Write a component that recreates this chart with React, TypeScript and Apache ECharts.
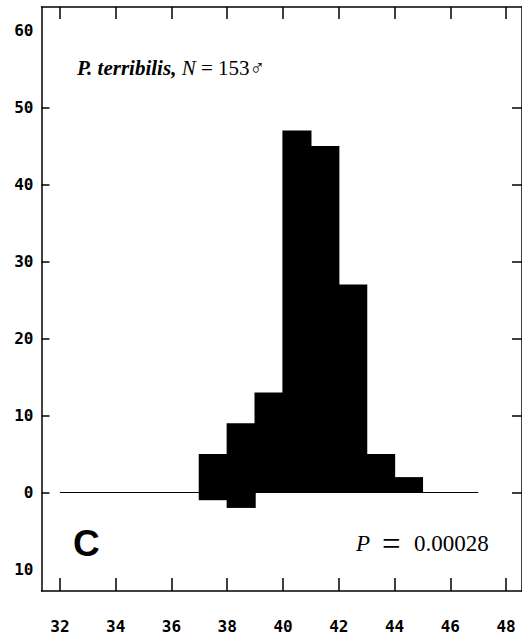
import React, { useEffect, useRef } from "react";
import * as echarts from "echarts";

// Bin starts (each bin is 1 unit wide)
const binStarts = [37, 38, 39, 40, 41, 42, 43, 44];
const upperCounts = [5, 9, 13, 47, 45, 27, 5, 2];
const lowerCounts = [-1, -2, 0, 0, 0, 0, 0, 0];
const baselineRange = [32, 47];
const xTicks = [32, 34, 36, 38, 40, 42, 44, 46, 48];
const yLabels = [-10, 0, 10, 20, 30, 40, 50, 60];
const yTicks = [0, 10, 20, 30, 40, 50];

export default function App() {
  const ref = useRef<HTMLDivElement>(null);
  useEffect(() => {
    document.body.style.margin = "0";
    const chart = echarts.init(ref.current!, null, { renderer: "svg" });
    const rects: number[][] = [];
    binStarts.forEach((s, i) => {
      if (upperCounts[i] !== 0) rects.push([s, s + 1, upperCounts[i]]);
      if (lowerCounts[i] !== 0) rects.push([s, s + 1, lowerCounts[i]]);
    });
    const monoLabel = {
      fontFamily: "DejaVu Sans Mono",
      fontWeight: "bold" as const,
      fontSize: 16,
      color: "#000",
    };
    const axisLine = { show: true, onZero: false, lineStyle: { color: "#000", width: 1.5 } };
    const tickStyle = { color: "#000", width: 1.5 };
    const serif = "Liberation Serif";
    chart.setOption({
      animation: false,
      backgroundColor: "#fff",
      grid: { left: 41.5, right: -2, top: 7, bottom: 49 },
      xAxis: [
        {
          type: "value",
          min: 31.34,
          max: 48.57,
          position: "bottom",
          axisLine,
          splitLine: { show: false },
          axisTick: { show: true, inside: true, length: 13, customValues: xTicks, lineStyle: tickStyle },
          axisLabel: {
            ...monoLabel,
            margin: 27,
            customValues: xTicks,
            formatter: (v: number) => String(v),
          },
        },
        {
          type: "value",
          min: 31.34,
          max: 48.57,
          position: "top",
          axisLine,
          splitLine: { show: false },
          axisTick: { show: true, inside: true, length: 12, customValues: xTicks, lineStyle: tickStyle },
          axisLabel: { show: false },
        },
      ],
      yAxis: [
        {
          type: "value",
          min: -12.79,
          max: 63.05,
          position: "left",
          axisLine,
          splitLine: { show: false },
          axisTick: { show: true, inside: true, length: 8, customValues: yTicks, lineStyle: tickStyle },
          axisLabel: {
            ...monoLabel,
            margin: 8,
            customValues: yLabels,
            formatter: (v: number) => String(Math.abs(v)),
          },
        },
        {
          type: "value",
          min: -12.79,
          max: 63.05,
          position: "right",
          axisLine,
          splitLine: { show: false },
          axisTick: { show: true, inside: true, length: 10, customValues: yTicks, lineStyle: tickStyle },
          axisLabel: { show: false },
        },
      ],
      series: [
        {
          type: "line",
          data: [
            [baselineRange[0], 0],
            [baselineRange[1], 0],
          ],
          symbol: "none",
          lineStyle: { color: "#000", width: 1.2 },
          z: 1,
        },
        {
          type: "custom",
          data: rects,
          z: 2,
          renderItem: (params: any, api: any) => {
            const x0 = api.value(0);
            const x1 = api.value(1);
            const y = api.value(2);
            const p0 = api.coord([x0, y]);
            const p1 = api.coord([x1, 0]);
            return {
              type: "rect",
              shape: {
                x: p0[0] - 0.6,
                y: Math.min(p0[1], p1[1]),
                width: p1[0] - p0[0] + 1.2,
                height: Math.abs(p1[1] - p0[1]),
              },
              style: { fill: "#000" },
            };
          },
        },
      ],
      graphic: [
        {
          type: "text",
          left: 77,
          top: 57,
          style: {
            text: "{b|P. terribilis,}{i| N}{r| = 153♂}",
            rich: {
              b: { fontFamily: serif, fontStyle: "italic", fontWeight: "bold", fontSize: 21, fill: "#000" },
              i: { fontFamily: serif, fontStyle: "italic", fontSize: 21, fill: "#000" },
              r: { fontFamily: serif, fontSize: 21, fill: "#000" },
            },
          },
        },
        {
          type: "text",
          left: 73,
          top: 525,
          style: { text: "C", fontFamily: "Liberation Sans", fontWeight: "bold", fontSize: 37, fill: "#000" },
        },
        {
          type: "text",
          left: 356,
          top: 532,
          style: { text: "P", fontFamily: serif, fontStyle: "italic", fontSize: 23, fill: "#000" },
        },
        {
          type: "text",
          left: 382,
          top: 527,
          style: { text: "=", fontFamily: serif, fontSize: 33, fill: "#000" },
        },
        {
          type: "text",
          left: 414,
          top: 532,
          style: { text: "0.00028", fontFamily: serif, fontSize: 23, fill: "#000" },
        },
      ],
    });
    return () => chart.dispose();
  }, []);
  return <div ref={ref} style={{ width: 522, height: 640 }} />;
}
